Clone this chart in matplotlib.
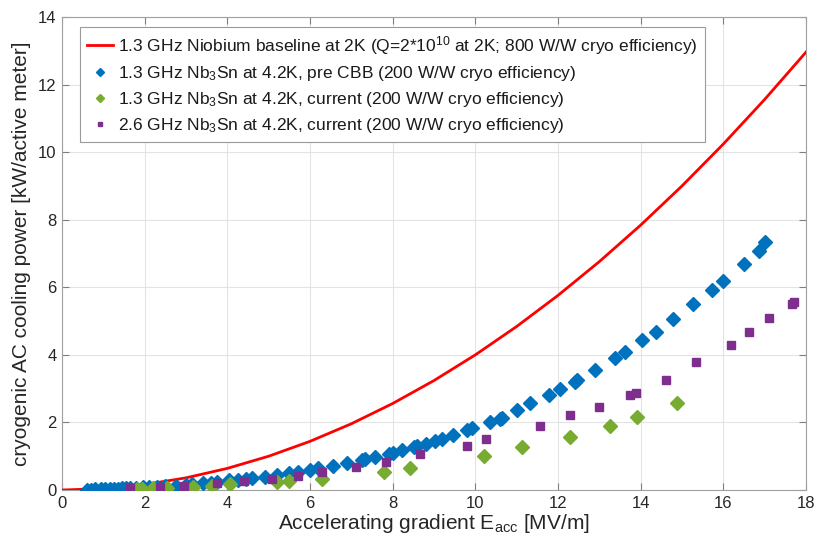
import matplotlib
matplotlib.use("Agg")
import matplotlib.pyplot as plt

plt.rcParams['font.family'] = ['Liberation Sans', 'DejaVu Sans']
plt.rcParams['mathtext.fontset'] = 'custom'
plt.rcParams['mathtext.rm'] = 'Liberation Sans'
plt.rcParams['mathtext.it'] = 'Liberation Sans'

# Red baseline curve
nb_E = [0, 1, 2, 3, 4, 5, 6, 7, 8, 9, 10, 11, 12, 13, 14, 15, 16, 17, 18]
nb_P = [0, 0.04, 0.16, 0.36, 0.64, 1.0, 1.44, 1.96, 2.56, 3.24, 4.0, 4.84,
        5.76, 6.76, 7.84, 9.0, 10.24, 11.56, 12.96]

# Blue diamonds: 1.3 GHz Nb3Sn pre CBB
pre_E = [0.6, 0.7, 0.8, 0.95, 1.05, 1.15, 1.25, 1.35, 1.45, 1.55, 1.65, 1.8,
         1.95, 2.1, 2.3, 2.5, 2.75, 3.0, 3.15, 3.4, 3.6, 3.75, 4.05, 4.25,
         4.45, 4.6, 4.9, 5.2, 5.5, 5.7, 6.0, 6.2, 6.55, 6.9, 7.25, 7.32, 7.58,
         7.92, 8.0, 8.22, 8.52, 8.6, 8.81, 9.03, 9.19, 9.47, 9.8, 9.93, 10.36,
         10.6, 10.65, 11.0, 11.33, 11.78, 12.05, 12.42, 12.47, 12.9, 13.37,
         13.63, 14.03, 14.37, 14.79, 15.26, 15.73, 16.0, 16.5, 16.87, 17.0]
pre_P = [0.01, 0.01, 0.02, 0.02, 0.03, 0.03, 0.04, 0.04, 0.05, 0.05, 0.06,
         0.07, 0.08, 0.09, 0.10, 0.11, 0.13, 0.15, 0.17, 0.21, 0.22, 0.23,
         0.29, 0.31, 0.34, 0.36, 0.39, 0.44, 0.50, 0.54, 0.58, 0.65, 0.72,
         0.81, 0.88, 0.91, 0.99, 1.07, 1.10, 1.17, 1.27, 1.30, 1.37, 1.45,
         1.52, 1.64, 1.77, 1.84, 2.02, 2.11, 2.14, 2.37, 2.58, 2.81, 2.98,
         3.21, 3.26, 3.54, 3.91, 4.09, 4.43, 4.69, 5.05, 5.50, 5.93, 6.19,
         6.70, 7.08, 7.35]

# Green diamonds: 1.3 GHz Nb3Sn current
cur_E = [1.82, 1.93, 2.21, 2.53, 3.18, 3.62, 4.07, 5.2, 5.5, 6.3, 7.78, 8.42,
         10.22, 11.13, 12.28, 13.25, 13.92, 14.87]
cur_P = [0.03, 0.04, 0.05, 0.06, 0.09, 0.11, 0.18, 0.23, 0.27, 0.33, 0.53,
         0.65, 1.01, 1.26, 1.58, 1.90, 2.15, 2.58]

# Purple squares: 2.6 GHz Nb3Sn current
ghz26_E = [1.65, 2.36, 2.95, 3.75, 4.41, 5.08, 5.71, 6.30, 7.12, 7.83, 8.67,
           9.79, 10.27, 11.57, 12.3, 12.99, 13.75, 13.88, 14.61, 15.35, 16.18,
           16.61, 17.1, 17.65, 17.7]
ghz26_P = [0.05, 0.10, 0.13, 0.20, 0.27, 0.33, 0.41, 0.54, 0.69, 0.84, 1.06,
           1.30, 1.50, 1.89, 2.22, 2.45, 2.82, 2.88, 3.25, 3.79, 4.29, 4.68,
           5.08, 5.52, 5.55]

labels = [
    r'1.3 GHz Niobium baseline at 2K (Q=2*10$^{\mathregular{10}}$ at 2K; 800 W/W cryo efficiency)',
    r'1.3 GHz Nb$_{\mathregular{3}}$Sn at 4.2K, pre CBB (200 W/W cryo efficiency)',
    r'1.3 GHz Nb$_{\mathregular{3}}$Sn at 4.2K, current (200 W/W cryo efficiency)',
    r'2.6 GHz Nb$_{\mathregular{3}}$Sn at 4.2K, current (200 W/W cryo efficiency)',
]

fig = plt.figure(figsize=(8.17, 5.49), dpi=100)
ax = fig.add_axes([62/817, 1-490/549, 744/817, 473/549])

blue = '#0072BD'
green = '#77AC30'
purple = '#7E2F8E'

ax.plot(nb_E, nb_P, color='#FF0000', lw=2, label=labels[0], zorder=3)
ax.plot(pre_E, pre_P, ls='none', marker='D', ms=7, color=blue,
        mec=blue, label=labels[1], zorder=4)
ax.plot(cur_E, cur_P, ls='none', marker='D', ms=7, color=green,
        mec=green, label=labels[2], zorder=5)
ax.plot(ghz26_E, ghz26_P, ls='none', marker='s', ms=5.5, color=purple,
        mec=purple, label=labels[3], zorder=5)

ax.set_xlim(0, 18)
ax.set_ylim(0, 14)
ax.set_xticks(range(0, 19, 2))
ax.set_yticks(range(0, 15, 2))
ax.grid(True, color='#e3e3e3', lw=0.8)
ax.set_axisbelow(True)
for s in ax.spines.values():
    s.set_color('#a0a0a0')
    s.set_linewidth(0.8)
ax.tick_params(direction='in', top=True, right=True, length=5,
               color='#808080', labelsize=12, labelcolor='#262626', pad=4)

ax.set_xlabel(r'Accelerating gradient E$_{\mathregular{acc}}$ [MV/m]',
              fontsize=15, color='#262626', labelpad=1)
ax.set_ylabel('cryogenic AC cooling power [kW/active meter]',
              fontsize=15, color='#262626', labelpad=5)

leg = ax.legend(loc='upper left', bbox_to_anchor=(0.024, 0.979),
                fontsize=12.5, frameon=True, fancybox=False,
                edgecolor='#9a9a9a', framealpha=1, borderaxespad=0,
                handlelength=1.5, handletextpad=0.3, labelspacing=0.4,
                borderpad=0.4, markerscale=0.6)
leg.get_frame().set_linewidth(0.8)
for t in leg.get_texts():
    t.set_color('#1a1a1a')

fig.savefig('out.png', dpi=100)
